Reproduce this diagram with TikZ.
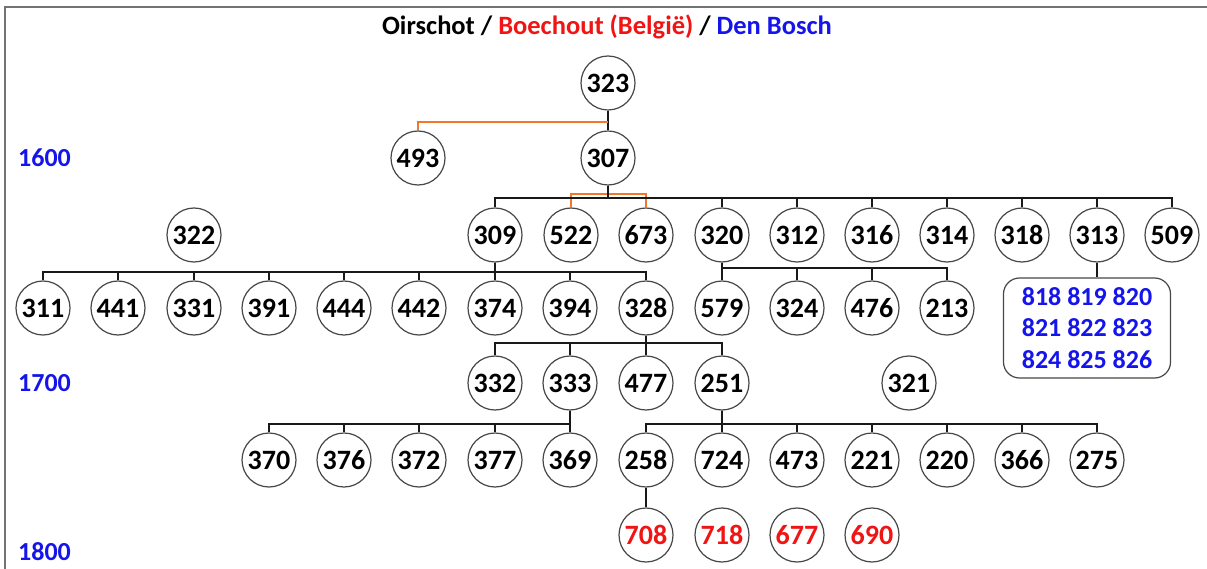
\documentclass[tikz,border=0pt]{standalone}
\usepackage{fontspec}
\setmainfont{Carlito}
\usetikzlibrary{calc}
\definecolor{bblue}{RGB}{20,20,235}
\definecolor{rred}{RGB}{240,20,20}
\definecolor{oline}{RGB}{240,120,40}
\tikzset{
  person/.style={circle, draw=black!72, line width=1.2pt, fill=white, minimum size=54pt, inner sep=0pt,
    font=\fontsize{28}{30}\selectfont\bfseries},
  red person/.style={person, text=rred},
  link/.style={draw=black!90, line width=1.3pt},
  olink/.style={draw=oline, line width=1.3pt},
  year/.style={text=bblue, font=\fontsize{26}{28}\selectfont\bfseries, anchor=west, inner sep=0pt},
}
\begin{document}
\begin{tikzpicture}[x=1pt,y=-1pt]
\useasboundingbox (0,0) rectangle (1207,569);
\draw[draw=black!55, line width=2pt] (5,569) -- (5,7) -- (1207,7);

\node[inner sep=0pt, font=\fontsize{26.5}{28}\selectfont\bfseries] (title) at (607,27)
  {Oirschot / \textcolor{rred}{Boechout (België)} / \textcolor{bblue}{Den Bosch}};

\node[year] (y1600) at (18,158) {1600};
\node[year] (y1700) at (18,383) {1700};
\node[year] (y1800) at (18,552) {1800};

% bus levels
\coordinate (oA) at (0,122);
\coordinate (oB) at (0,194);
\coordinate (bA) at (0,198);
\coordinate (bB) at (0,272);
\coordinate (bC) at (0,268);
\coordinate (bD) at (0,343);
\coordinate (bE) at (0,424);

% row 0,1
\node[person] (n323) at (608,83) {323};
\node[person] (n493) at (418,158) {493};
\node[person] (n307) at (608,158) {307};
% row 2
\node[person] (n322) at (194,235) {322};
\node[person] (n309) at (495,235) {309};
\node[person] (n522) at (571,235) {522};
\node[person] (n673) at (646,235) {673};
\node[person] (n320) at (722,235) {320};
\node[person] (n312) at (797,235) {312};
\node[person] (n316) at (872,235) {316};
\node[person] (n314) at (947,235) {314};
\node[person] (n318) at (1022,235) {318};
\node[person] (n313) at (1097,235) {313};
\node[person] (n509) at (1172,235) {509};
% row 3
\node[person] (n311) at (43,308) {311};
\node[person] (n441) at (118,308) {441};
\node[person] (n331) at (194,308) {331};
\node[person] (n391) at (269,308) {391};
\node[person] (n444) at (344,308) {444};
\node[person] (n442) at (419,308) {442};
\node[person] (n374) at (495,308) {374};
\node[person] (n394) at (570,308) {394};
\node[person] (n328) at (646,308) {328};
\node[person] (n579) at (722,308) {579};
\node[person] (n324) at (797,308) {324};
\node[person] (n476) at (872,308) {476};
\node[person] (n213) at (947,308) {213};
\node[draw=black!72, line width=1.2pt, rounded corners=16pt, minimum width=167pt, minimum height=100pt,
  inner sep=0pt, text=bblue, align=center, font=\fontsize{26}{31.5}\selectfont\bfseries]
  (box) at (1087,328) {818 819 820\\821 822 823\\824 825 826};
% row 4
\node[person] (n332) at (495,383) {332};
\node[person] (n333) at (570,383) {333};
\node[person] (n477) at (646,383) {477};
\node[person] (n251) at (722,383) {251};
\node[person] (n321) at (909,383) {321};
% row 5
\node[person] (n370) at (269,460) {370};
\node[person] (n376) at (344,460) {376};
\node[person] (n372) at (419,460) {372};
\node[person] (n377) at (495,460) {377};
\node[person] (n369) at (570,460) {369};
\node[person] (n258) at (646,460) {258};
\node[person] (n724) at (722,460) {724};
\node[person] (n473) at (797,460) {473};
\node[person] (n221) at (872,460) {221};
\node[person] (n220) at (947,460) {220};
\node[person] (n366) at (1022,460) {366};
\node[person] (n275) at (1097,460) {275};
% row 6
\node[red person] (n708) at (646,535) {708};
\node[red person] (n718) at (722,535) {718};
\node[red person] (n677) at (797,535) {677};
\node[red person] (n690) at (872,535) {690};

% connectors
\draw[link] (n323.south) -- (n307.north);
\draw[olink] (n323.south |- oA) -| (n493.north);

\draw[olink] (n522.north) |- (n673.north |- oB) -- (n673.north);
\foreach \c in {309,320,312,316,314,318,313,509}
  \draw[link] (n307.south) |- (n\c.north |- bA) -- (n\c.north);
\draw[link, line width=2.2pt] (n307.south) |- (n509.north |- bA);

\foreach \c in {311,441,331,391,444,442,374,394,328}
  \draw[link] (n309.south) |- (n\c.north |- bB) -- (n\c.north);

\foreach \c in {579,324,476,213}
  \draw[link] (n320.south) |- (n\c.north |- bC) -- (n\c.north);

\draw[link] (n313.south) -- (box.north -| n313.south);

\foreach \c in {332,333,477,251}
  \draw[link] (n328.south) |- (n\c.north |- bD) -- (n\c.north);

\foreach \c in {370,376,372,377,369}
  \draw[link] (n333.south) |- (n\c.north |- bE) -- (n\c.north);

\foreach \c in {258,724,473,221,220,366,275}
  \draw[link] (n251.south) |- (n\c.north |- bE) -- (n\c.north);

\draw[link] (n258.south) -- (n708.north);
\end{tikzpicture}
\end{document}
